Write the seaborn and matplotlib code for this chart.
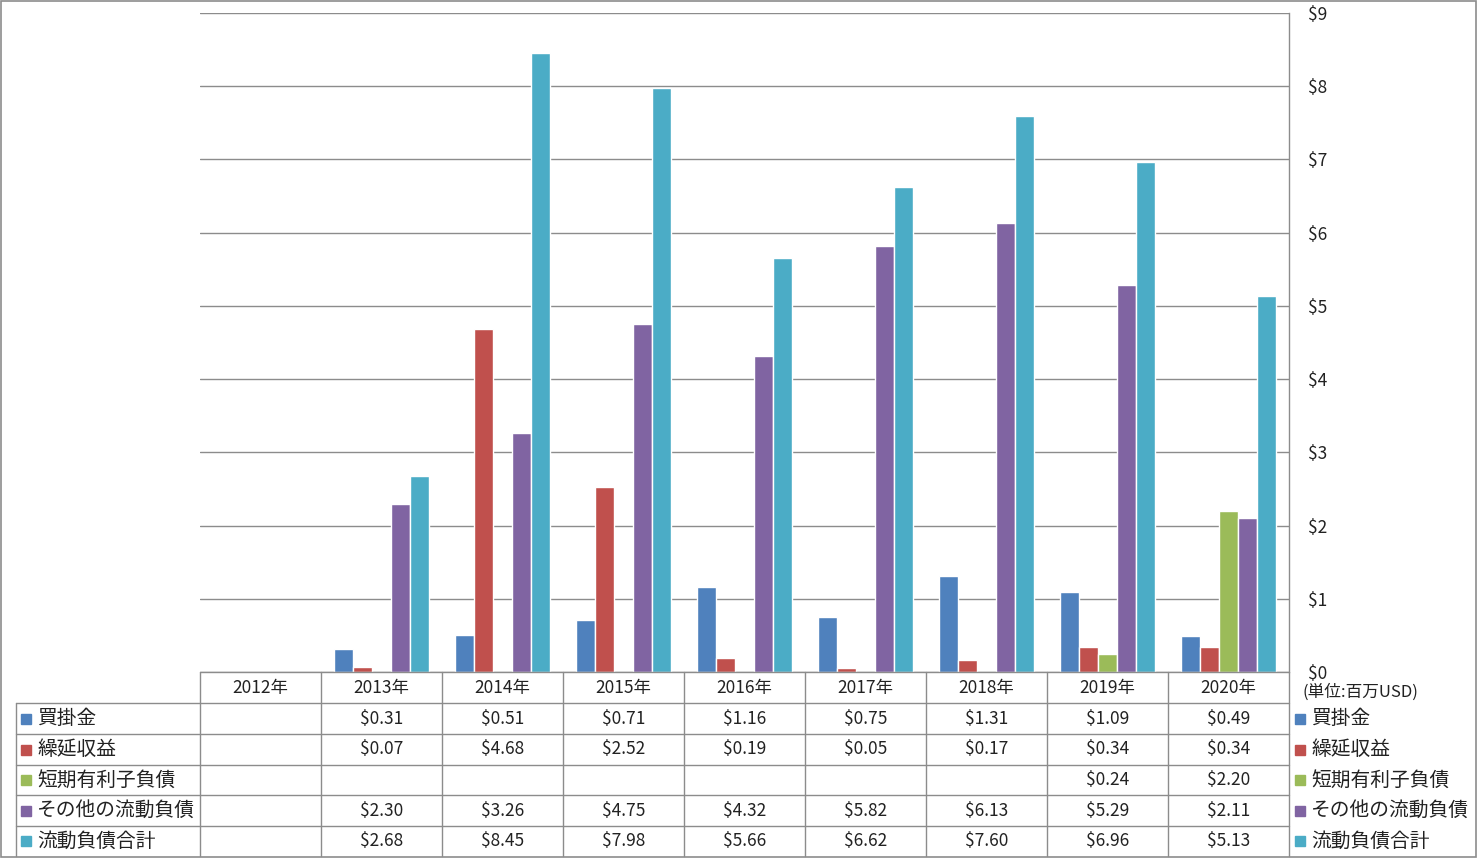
import numpy as np
import pandas as pd
import matplotlib
matplotlib.use("Agg")
import matplotlib.pyplot as plt
import seaborn as sns
from matplotlib.lines import Line2D
from matplotlib.patches import Rectangle

years = ["2012年", "2013年", "2014年", "2015年", "2016年", "2017年", "2018年", "2019年", "2020年"]
series = ["買掛金", "繰延収益", "短期有利子負債", "その他の流動負債", "流動負債合計"]
accounts_payable = [np.nan, 0.31, 0.51, 0.71, 1.16, 0.75, 1.31, 1.09, 0.49]
deferred_revenue = [np.nan, 0.07, 4.68, 2.52, 0.19, 0.05, 0.17, 0.34, 0.34]
short_term_debt = [np.nan, np.nan, np.nan, np.nan, np.nan, np.nan, np.nan, 0.24, 2.20]
other_current = [np.nan, 2.30, 3.26, 4.75, 4.32, 5.82, 6.13, 5.29, 2.11]
total_current = [np.nan, 2.68, 8.45, 7.98, 5.66, 6.62, 7.60, 6.96, 5.13]
colors = ["#4F81BD", "#C0504D", "#9BBB59", "#8064A2", "#4BACC6"]
yticks = list(range(0, 10))
unit_label = "(単位:百万USD)"

values = [accounts_payable, deferred_revenue, short_term_debt, other_current, total_current]
rows = []
for s, vals in zip(series, values):
    for y, v in zip(years, vals):
        rows.append({"year": y, "series": s, "value": v})
df = pd.DataFrame(rows)

sns.set_theme(style="white")
plt.rcParams["font.family"] = ["Noto Sans CJK JP", "DejaVu Sans"]

W, H = 1477, 858
fig = plt.figure(figsize=(W / 100, H / 100), dpi=100)
fig.patch.set_facecolor("white")

L, R, T, B = 200, 1289, 13, 672
ax = fig.add_axes([L / W, 1 - B / H, (R - L) / W, (B - T) / H])
sns.barplot(data=df.dropna(), x="year", y="value", hue="series", order=years,
            hue_order=series, palette=colors, width=0.785, gap=0, ax=ax,
            saturation=1, legend=False, errorbar=None)
ax.set_xlim(-0.5, len(years) - 0.5)
ax.set_ylim(0, 9)
ax.set_yticks(yticks)
ax.set_yticklabels([f"${t}" for t in yticks], fontsize=12.5, color="#222222")
ax.yaxis.tick_right()
ax.tick_params(axis="y", length=0, pad=14)
for lab in ax.get_yticklabels():
    lab.set_horizontalalignment("left")
ax.set_xticks([])
ax.set_xlabel("")
ax.set_ylabel("")
ax.grid(axis="y", color="#8c8c8c", linewidth=1)
ax.set_axisbelow(True)
for side in ["left", "top", "bottom"]:
    ax.spines[side].set_visible(False)
ax.spines["right"].set_color("#8c8c8c")
ax.spines["right"].set_linewidth(1)

# overlay for table
ov = fig.add_axes([0, 0, 1, 1])
ov.set_xlim(0, W)
ov.set_ylim(H, 0)
ov.axis("off")
ov.patch.set_alpha(0)

lc = "#8c8c8c"
def line(x0, y0, x1, y1):
    ov.add_line(Line2D([x0, x1], [y0, y1], color=lc, linewidth=1))

# figure border
ov.add_patch(Rectangle((0.5, 0.5), W - 1.5, H - 1.5, fill=False, edgecolor=lc, linewidth=1.2))

col_w = (R - L) / len(years)
row_edges = [672, 703, 734, 765, 795, 826, 856]
line(L, row_edges[0], R, row_edges[0])
for y in row_edges[1:-1]:
    line(16, y, R, y)
for i in range(len(years) + 1):
    line(L + i * col_w, row_edges[0], L + i * col_w, row_edges[-1])
line(16, row_edges[1], 16, row_edges[-1])

for i, y in enumerate(years):
    ov.text(L + (i + 0.5) * col_w, (row_edges[0] + row_edges[1]) / 2 + 1, y,
            ha="center", va="center", fontsize=12.5, color="#222222")

for r, (s, vals, c) in enumerate(zip(series, values, colors)):
    yc = (row_edges[r + 1] + row_edges[r + 2]) / 2
    ov.add_patch(Rectangle((21, yc - 5), 10, 10, color=c))
    ov.text(37, yc, s, ha="left", va="center", fontsize=14.2, color="#222222")
    for i, v in enumerate(vals):
        if not np.isnan(v):
            ov.text(L + (i + 0.5) * col_w, yc, f"${v:.2f}", ha="center", va="center",
                    fontsize=12.5, color="#222222")
    ov.add_patch(Rectangle((1295, yc - 5), 10, 10, color=c))
    ov.text(1311, yc, s, ha="left", va="center", fontsize=14.2, color="#222222")

ov.text(1302, 692, unit_label, ha="left", va="center", fontsize=12, color="#222222")

fig.savefig("out.png", dpi=100, facecolor="white")
